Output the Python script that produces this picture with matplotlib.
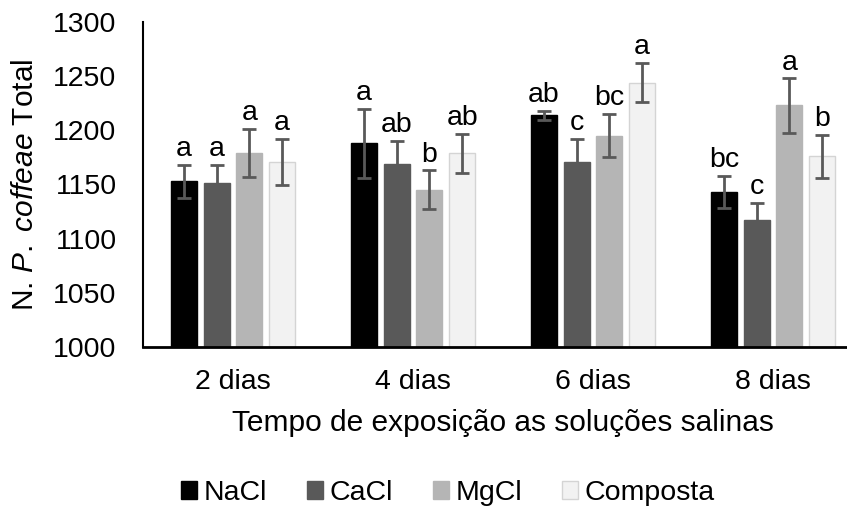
import numpy as np
import matplotlib
matplotlib.use('Agg')
import matplotlib.pyplot as plt

plt.rcParams['font.family'] = ['Liberation Sans', 'DejaVu Sans']
plt.rcParams['mathtext.fontset'] = 'custom'
plt.rcParams['mathtext.rm'] = 'Liberation Sans'
plt.rcParams['mathtext.it'] = 'Liberation Sans:italic'

# dados
dias = ['2 dias', '4 dias', '6 dias', '8 dias']
series = ['NaCl', 'CaCl', 'MgCl', 'Composta']
nacl = [1153, 1188, 1214, 1143]
cacl = [1151, 1169, 1171, 1117]
mgcl = [1179, 1145, 1195, 1223]
composta = [1171, 1179, 1244, 1176]
err_nacl = [15, 32, 4, 15]
err_cacl = [17, 21, 21, 16]
err_mgcl = [22, 18, 20, 25]
err_composta = [21, 18, 18, 20]
let_nacl = ['a', 'a', 'ab', 'bc']
let_cacl = ['a', 'ab', 'c', 'c']
let_mgcl = ['a', 'b', 'bc', 'a']
let_composta = ['a', 'ab', 'a', 'b']

valores = [nacl, cacl, mgcl, composta]
erros = [err_nacl, err_cacl, err_mgcl, err_composta]
letras = [let_nacl, let_cacl, let_mgcl, let_composta]
cores = ['#000000', '#595959', '#b5b5b5', '#f2f2f2']
bordas = ['#000000', '#595959', '#b5b5b5', '#d4d4d4']

fig = plt.figure(figsize=(8.47, 5.15), dpi=100)
ax = fig.add_axes([143/847, 1 - 347/515, 720/847, 325/515])

x = np.arange(len(dias))
passo = 0.182
larg = 0.145
for i in range(4):
    pos = x + (i - 1.5) * passo
    ax.bar(pos, valores[i], width=larg, bottom=0, color=cores[i],
           edgecolor=bordas[i], linewidth=1, label=series[i], zorder=2)
    ax.errorbar(pos, valores[i], yerr=erros[i], fmt='none', ecolor='#595959',
                elinewidth=2, capsize=5, capthick=2, zorder=3)
    for p, v, e, t in zip(pos, valores[i], erros[i], letras[i]):
        ax.annotate(t, (p, v + e), xytext=(0, 2), textcoords='offset points',
                    ha='center', va='bottom', fontsize=20.5, color='#000000')

ax.set_ylim(1000, 1300)
ax.set_xlim(-0.5, 3.5)
ax.set_yticks(range(1000, 1301, 50))
ax.set_xticks(x)
ax.set_xticklabels(dias)
ax.tick_params(axis='y', labelsize=20.5, length=0, pad=19)
ax.tick_params(axis='x', labelsize=20.5, length=0, pad=16)
ax.spines['top'].set_visible(False)
ax.spines['right'].set_visible(False)
ax.spines['left'].set_linewidth(1.5)
ax.spines['bottom'].set_linewidth(2)

ax.set_xlabel('Tempo de exposição as soluções salinas', fontsize=21.5, labelpad=10)
fig.text(25/847, 1 - 185/515, r'N. $\it{P.\ coffeae}$ Total', rotation=90,
         ha='center', va='center', fontsize=21.5)

fig.legend(loc='center', bbox_to_anchor=(448/847, 1 - 493/515), ncol=4,
           frameon=False, fontsize=20.5, handlelength=0.55, handleheight=0.55,
           handletextpad=0.25, columnspacing=1.4)

plt.savefig('out.png', dpi=100)
